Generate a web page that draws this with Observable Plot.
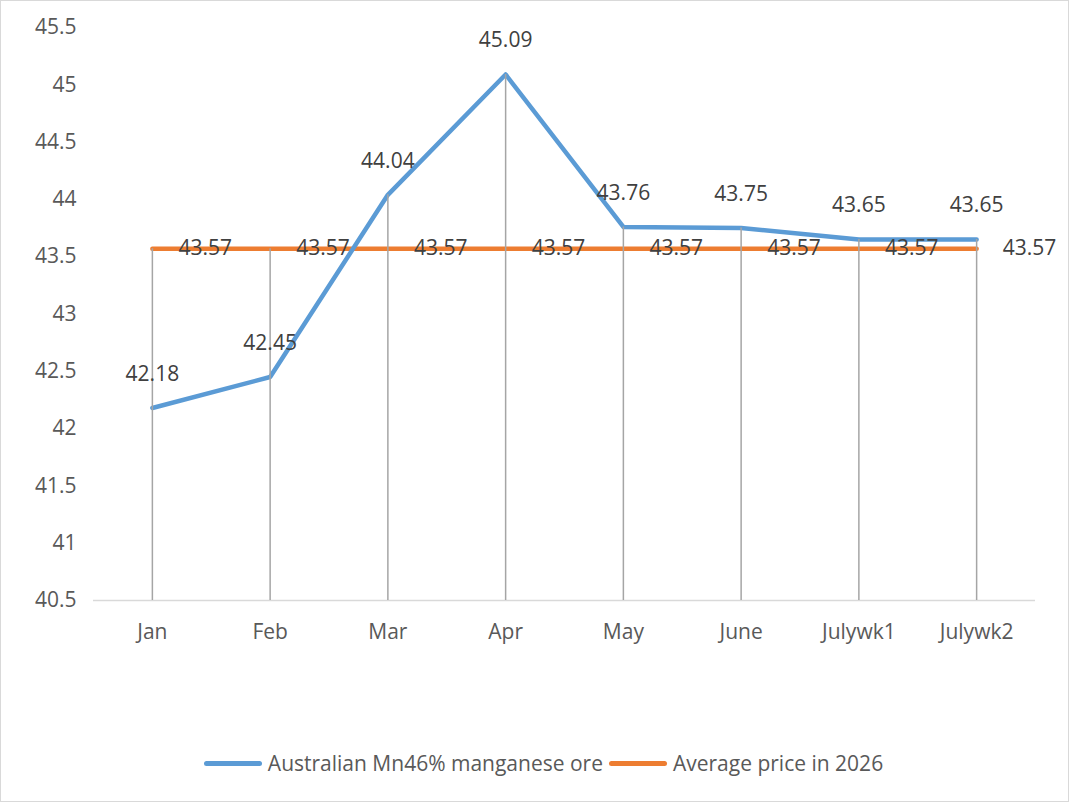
<!DOCTYPE html>
<html>
<head>
<meta charset="utf-8">
<script src="https://cdn.jsdelivr.net/npm/d3@7"></script>
<script src="https://cdn.jsdelivr.net/npm/@observablehq/plot@0.6"></script>
<style>
  html, body { margin: 0; padding: 0; background: #fff; }
  #frame {
    width: 1069px; height: 802px; box-sizing: border-box;
    border: 1px solid #d9d9d9; background: #fff; position: relative;
    font-family: "Open Sans", sans-serif;
  }
  #legend {
    position: absolute; left: 0; right: 0; top: 748px;
    display: flex; justify-content: center; align-items: center;
    padding-left: 24px;
    font-size: 21px; color: #595959;
  }
  .item { display: flex; align-items: center; margin-right: 6px; }
  .swatch { width: 58px; height: 5px; border-radius: 3px; margin-right: 6px; }
</style>
</head>
<body>
<div id="frame">
  <div id="chart"></div>
  <div id="legend"></div>
</div>
<script>
// Monthly prices, Australian Mn46% manganese ore
const months = ["Jan", "Feb", "Mar", "Apr", "May", "June", "Julywk1", "Julywk2"];
const orePrices = [42.18, 42.45, 44.04, 45.09, 43.76, 43.75, 43.65, 43.65];
const avgPrices = [43.57, 43.57, 43.57, 43.57, 43.57, 43.57, 43.57, 43.57];
const seriesNames = ["Australian Mn46% manganese ore", "Average price in 2026"];
const seriesColors = ["#5b9bd5", "#ed7d31"];
const yTicks = [40.5, 41, 41.5, 42, 42.5, 43, 43.5, 44, 44.5, 45, 45.5];

const ore = months.map((m, i) => ({month: m, value: orePrices[i]}));
const avg = months.map((m, i) => ({month: m, value: avgPrices[i]}));
// drop lines run from the higher of the two series down to the axis floor
const drops = months.map((m, i) => ({month: m, top: Math.max(orePrices[i], avgPrices[i])}));

const fmtTick = d => String(+d.toFixed(1));

const chart = Plot.plot({
  width: 1067,
  height: 720,
  marginLeft: 92,
  marginRight: 33,
  marginTop: 26,
  marginBottom: 121,
  style: {fontFamily: "'Open Sans', sans-serif", fontSize: "21px", color: "#595959", background: "#fff"},
  x: {type: "point", domain: months, padding: 0.5, round: false, label: null},
  y: {domain: [40.5, 45.5], label: null},
  marks: [
    Plot.axisY({ticks: yTicks, tickFormat: fmtTick, tickSize: 0, tickPadding: 17, fontSize: 21, fill: "#595959"}),
    Plot.axisX({tickSize: 0, tickPadding: 24, fontSize: 21, fill: "#595959"}),
    Plot.ruleY([40.5], {stroke: "#d9d9d9", strokeWidth: 1.5}),
    Plot.line(avg, {x: "month", y: "value", stroke: seriesColors[1], strokeWidth: 4.5, strokeLinecap: "round"}),
    Plot.line(ore, {x: "month", y: "value", stroke: seriesColors[0], strokeWidth: 4.5, strokeLinecap: "round", strokeLinejoin: "round"}),
    Plot.ruleX(drops, {x: "month", y1: 40.5, y2: "top", stroke: "#a5a5a5", strokeWidth: 1.5}),
    Plot.text(ore, {x: "month", y: "value", text: d => d.value.toFixed(2), dy: -34, fontSize: 21, fill: "#404040"}),
    Plot.text(avg, {x: "month", y: "value", text: d => d.value.toFixed(2), dx: 26, textAnchor: "start", fontSize: 21, fill: "#404040"})
  ]
});
document.getElementById("chart").appendChild(chart);

const legend = document.getElementById("legend");
seriesNames.forEach((name, i) => {
  const item = document.createElement("div");
  item.className = "item";
  const sw = document.createElement("span");
  sw.className = "swatch";
  sw.style.background = seriesColors[i];
  const label = document.createElement("span");
  label.textContent = name;
  item.appendChild(sw);
  item.appendChild(label);
  legend.appendChild(item);
});
</script>
</body>
</html>
